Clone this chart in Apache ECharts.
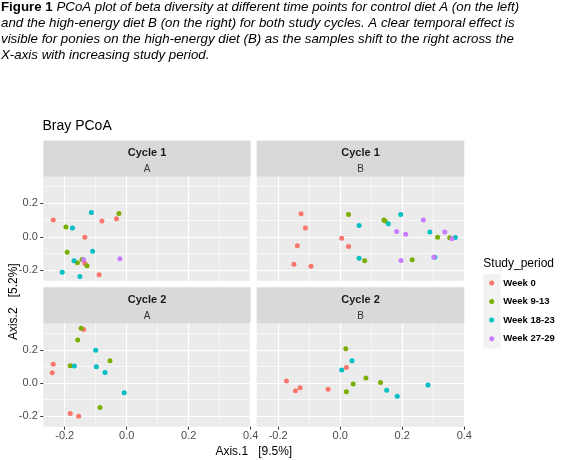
<!DOCTYPE html>
<html><head><meta charset="utf-8">
<script src="https://cdn.jsdelivr.net/npm/echarts@6/dist/echarts.min.js"></script>
<style>html,body{margin:0;padding:0;background:#fff}#c{width:563px;height:460px}</style>
</head><body><div id="c"></div>
<script>
// ---- data ----
const periods = ['Week 0', 'Week 9-13', 'Week 18-23', 'Week 27-29'];
const periodColors = ['#F8766D', '#7CAE00', '#00BFC4', '#C77CFF'];
const panelCycles = ['Cycle 1', 'Cycle 1', 'Cycle 2', 'Cycle 2'];
const panelDiets = ['A', 'B', 'A', 'B'];
const xTickValues = [-0.2, 0, 0.2, 0.4];
const yTickValues = [-0.2, 0, 0.2];
const xRange = [-0.269, 0.4];
const yRange = [-0.263, 0.36];

// Cycle 1, diet A
const c1A_week0 = [[-0.237, 0.10], [-0.080, 0.094], [-0.033, 0.108], [-0.135, -0.002], [-0.135, -0.158], [-0.089, -0.228]];
const c1A_week9 = [[-0.196, 0.058], [-0.025, 0.14], [-0.192, -0.092], [-0.159, -0.156], [-0.144, -0.136], [-0.128, -0.174]];
const c1A_week18 = [[-0.175, 0.052], [-0.114, 0.146], [-0.110, -0.086], [-0.170, -0.144], [-0.208, -0.212], [-0.151, -0.238]];
const c1A_week27 = [[-0.139, -0.138], [-0.022, -0.132]];
// Cycle 1, diet B
const c1B_week0 = [[-0.126, 0.138], [-0.112, 0.052], [-0.138, -0.054], [-0.149, -0.164], [-0.094, -0.176], [0.005, -0.008], [0.027, -0.058]];
const c1B_week9 = [[0.027, 0.134], [0.079, -0.144], [0.141, 0.10], [0.145, 0.094], [0.232, -0.138], [0.314, -0.002], [0.353, -0.006]];
const c1B_week18 = [[0.061, 0.068], [0.061, -0.128], [0.155, 0.078], [0.195, 0.134], [0.289, 0.028], [0.305, -0.122], [0.371, -0.004]];
const c1B_week27 = [[0.182, 0.032], [0.211, 0.016], [0.196, -0.142], [0.268, 0.10], [0.337, 0.028], [0.302, -0.122], [0.360, -0.012]];
// Cycle 2, diet A
const c2A_week0 = [[-0.139, 0.322], [-0.237, 0.114], [-0.240, 0.062], [-0.182, -0.184], [-0.155, -0.20]];
const c2A_week9 = [[-0.147, 0.33], [-0.158, 0.26], [-0.182, 0.104], [-0.054, 0.134], [-0.086, -0.148]];
const c2A_week18 = [[-0.100, 0.198], [-0.169, 0.102], [-0.098, 0.098], [-0.070, 0.064], [-0.008, -0.058]];
const c2A_week27 = [];
// Cycle 2, diet B
const c2B_week0 = [[0.020, 0.094], [-0.173, 0.012], [-0.129, -0.028], [-0.144, -0.046], [-0.039, -0.038]];
const c2B_week9 = [[0.018, 0.206], [0.083, 0.03], [0.042, -0.006], [0.020, -0.052], [0.130, 0.004]];
const c2B_week18 = [[0.038, 0.134], [0.005, 0.078], [0.150, -0.044], [0.184, -0.08], [0.283, -0.012]];
const c2B_week27 = [];

const panelData = [
  [c1A_week0, c1A_week9, c1A_week18, c1A_week27],
  [c1B_week0, c1B_week9, c1B_week18, c1B_week27],
  [c2A_week0, c2A_week9, c2A_week18, c2A_week27],
  [c2B_week0, c2B_week9, c2B_week18, c2B_week27]
];

// ---- layout ----
const F = 'Liberation Sans, Arial, Helvetica, sans-serif';
const grids = [
  {left: 43.3, top: 176.7, width: 207.4, height: 104},
  {left: 256.7, top: 176.7, width: 207.6, height: 104},
  {left: 43.3, top: 323.3, width: 207.4, height: 103.4},
  {left: 256.7, top: 323.3, width: 207.6, height: 103.4}
];
const stripTops = [140.5, 140.5, 287.3, 287.3];
const stripH = 36.2;

const gridOpt = grids.map(g => Object.assign({show: true, backgroundColor: '#EBEBEB', borderWidth: 0, containLabel: false}, g));

const xAxes = grids.map((g, i) => ({
  type: 'value', gridIndex: i, min: xRange[0], max: xRange[1], splitNumber: 3, position: 'bottom',
  axisLine: {show: false, onZero: false},
  axisTick: {show: i >= 2, length: 3, lineStyle: {color: '#333333', width: 1}, customValues: xTickValues},
  axisLabel: {show: i >= 2, customValues: xTickValues, color: '#4D4D4D', fontSize: 11, fontFamily: F, margin: 4,
    formatter: v => v.toFixed(1)},
  splitLine: {show: true, lineStyle: {color: '#FFFFFF', width: 1.2}},
  minorTick: {show: false, splitNumber: 2},
  minorSplitLine: {show: true, lineStyle: {color: '#FFFFFF', width: 0.6}}
}));
const yAxes = grids.map((g, i) => ({
  type: 'value', gridIndex: i, min: yRange[0], max: yRange[1], splitNumber: 3, position: 'left',
  axisLine: {show: false, onZero: false},
  axisTick: {show: i % 2 === 0, length: 3, lineStyle: {color: '#333333', width: 1}, customValues: yTickValues},
  axisLabel: {show: i % 2 === 0, customValues: yTickValues, color: '#4D4D4D', fontSize: 11, fontFamily: F, margin: 5.5,
    formatter: v => v.toFixed(1)},
  splitLine: {show: true, lineStyle: {color: '#FFFFFF', width: 1.2}},
  minorTick: {show: false, splitNumber: 2},
  minorSplitLine: {show: true, lineStyle: {color: '#FFFFFF', width: 0.6}}
}));

const series = [];
panelData.forEach((groups, pi) => {
  groups.forEach((pts, gi) => {
    series.push({
      type: 'scatter', name: periods[gi], xAxisIndex: pi, yAxisIndex: pi,
      data: pts, symbolSize: 5, itemStyle: {color: periodColors[gi], opacity: 1},
      emphasis: {disabled: true}, animation: false
    });
  });
});

const graphics = [];
grids.forEach((g, i) => {
  graphics.push({type: 'rect', silent: true, shape: {x: g.left, y: stripTops[i], width: g.width, height: stripH},
    style: {fill: '#D9D9D9'}});
  graphics.push({type: 'text', silent: true, x: g.left + g.width / 2, y: stripTops[i] + 12.8,
    style: {text: panelCycles[i], font: 'bold 11px ' + F, fill: '#1A1A1A', align: 'center', verticalAlign: 'middle'}});
  graphics.push({type: 'text', silent: true, x: g.left + g.width / 2, y: stripTops[i] + 28.5,
    style: {text: panelDiets[i], font: '10px ' + F, fill: '#333333', align: 'center', verticalAlign: 'middle'}});
});
// legend key background and title
graphics.push({type: 'rect', silent: true, shape: {x: 483.3, y: 274, width: 17.3, height: 74.5}, style: {fill: '#F2F2F2'}});
graphics.push({type: 'text', silent: true, x: 483.3, y: 263.5,
  style: {text: 'Study_period', font: '12px ' + F, fill: '#000000', align: 'left', verticalAlign: 'middle'}});
// axis titles
graphics.push({type: 'text', silent: true, x: 253.8, y: 451.5,
  style: {text: 'Axis.1   [9.5%]', font: '12px ' + F, fill: '#000000', align: 'center', verticalAlign: 'middle'}});
graphics.push({type: 'text', silent: true, x: 14, y: 301.7, rotation: Math.PI / 2,
  style: {text: 'Axis.2   [5.2%]', font: '12px ' + F, fill: '#000000', align: 'center', verticalAlign: 'middle'}});

const captionLines = [
  ['Figure 1', ' PCoA plot of beta diversity at different time points for control diet A (on the left)'],
  ['', 'and the high-energy diet B (on the right) for both study cycles. A clear temporal effect is'],
  ['', 'visible for ponies on the high-energy diet (B) as the samples shift to the right across the'],
  ['', 'X-axis with increasing study period.']
];
const captionText = captionLines.map(l => (l[0] ? '{b|' + l[0] + '}' : '') + '{i|' + l[1] + '}').join('\n');

const option = {
  backgroundColor: '#FFFFFF',
  animation: false,
  title: [
    {text: 'Bray PCoA', left: 42.5, top: 119.5, textStyle: {fontFamily: F, fontSize: 14, fontWeight: 'normal', color: '#000000'}, padding: 0},
    {text: captionText, left: 1, top: -1, padding: 0,
      textStyle: {fontWeight: 'normal', rich: {
        b: {fontFamily: F, fontSize: 13.3, fontWeight: 'bold', fontStyle: 'normal', color: '#000000', lineHeight: 16.2},
        i: {fontFamily: F, fontSize: 13.3, fontWeight: 'normal', fontStyle: 'italic', color: '#000000', lineHeight: 16.2}
      }}}
  ],
  legend: {
    data: periods, orient: 'vertical', left: 489.2, top: 276.9,
    icon: 'circle', itemWidth: 5, itemHeight: 5, itemGap: 6.6,
    textStyle: {fontFamily: F, fontSize: 9.5, fontWeight: 'bold', color: '#000000', lineHeight: 12, padding: [0, 0, 0, 4]},
    selectedMode: false, padding: 0
  },
  grid: gridOpt,
  xAxis: xAxes,
  yAxis: yAxes,
  series: series,
  graphic: graphics
};
const chart = echarts.init(document.getElementById('c'), null, {renderer: 'canvas'});
chart.setOption(option);
</script></body></html>
